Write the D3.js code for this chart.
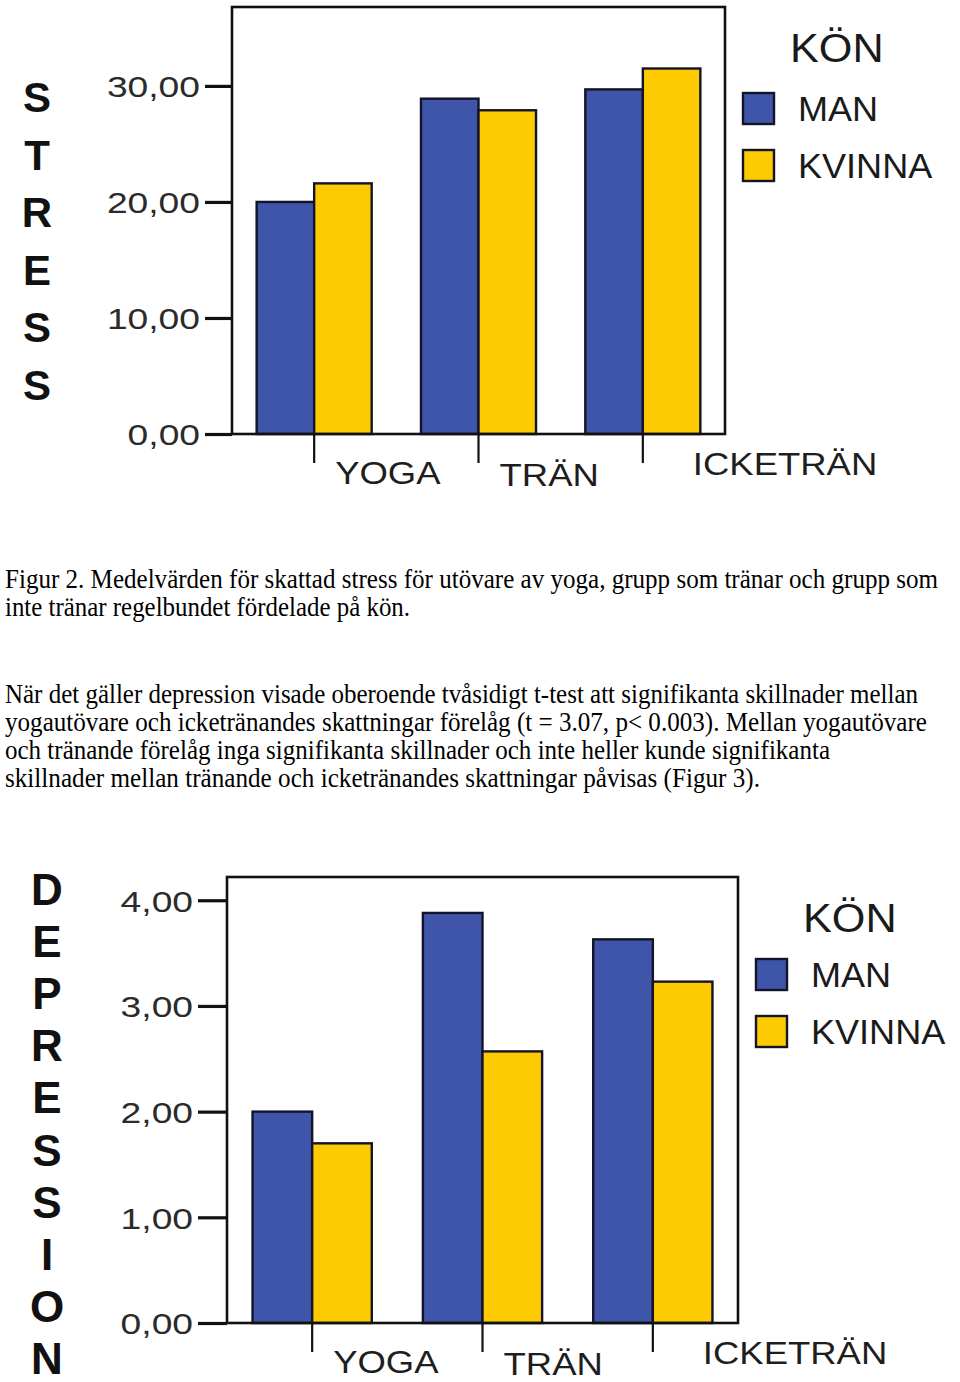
<!DOCTYPE html>
<html>
<head>
<meta charset="utf-8">
<script src="https://cdn.jsdelivr.net/npm/d3@7"></script>
<style>
  body { margin: 0; background: #fff; }
  svg { display: block; }
</style>
</head>
<body>
<div id="page"></div>
<script>
var width = 960,
    height = 1382;

// categories and series
const groups = ["YOGA", "TRÄN", "ICKETRÄN"];
const genders = ["MAN", "KVINNA"];

// figur 2 - stress
const stressMan = [20.0, 28.9, 29.7];
const stressKvinna = [21.6, 27.9, 31.5];
const stressTicks = [0, 10, 20, 30];

// figur 3 - depression
const depManValues = [2.00, 3.88, 3.63];
const depKvinnaValues = [1.70, 2.57, 3.23];
const depTicks = [0, 1, 2, 3, 4];

const legendTitle = "KÖN";

const captionLines = [
    "Figur 2. Medelvärden för skattad stress för utövare av yoga, grupp som tränar och grupp som",
    "inte tränar regelbundet fördelade på kön."
];
const paragraphLines = [
    "När det gäller depression visade oberoende tvåsidigt t-test att signifikanta skillnader mellan",
    "yogautövare och icketränandes skattningar förelåg (t = 3.07, p< 0.003). Mellan yogautövare",
    "och tränande förelåg inga signifikanta skillnader och inte heller kunde signifikanta",
    "skillnader mellan tränande och icketränandes skattningar påvisas (Figur 3)."
];

const colors = { MAN: "#3f55a9", KVINNA: "#fecb02" };
const sans = "'Liberation Sans', Arial, sans-serif";
const serif = "'Liberation Serif', 'Times New Roman', serif";

var svg = d3.select("#page").append("svg")
    .attr("width", width)
    .attr("height", height);

// widen svg text horizontally, the original picture is stretched
function stretch(sel, k) {
    sel.each(function () {
        var w = this.getComputedTextLength();
        d3.select(this).attr("textLength", w * k).attr("lengthAdjust", "spacingAndGlyphs");
    });
}

function drawChart(opt) {
    var rows = groups.map(function (g, i) {
        return { group: g, MAN: opt.man[i], KVINNA: opt.kvinna[i] };
    });

    var g = svg.append("g");

    var x0 = d3.scalePoint()
        .domain(groups)
        .range([opt.left, opt.right])
        .padding(0.5);

    var half = x0.step() * 0.35;
    var x1 = d3.scaleBand()
        .domain(genders)
        .range([-half, half]);

    var y = d3.scaleLinear()
        .domain([0, opt.yMax])
        .range([opt.bottom, opt.top]);

    // bars
    g.selectAll(".grp")
        .data(rows)
        .join("g")
        .attr("class", "grp")
        .attr("transform", d => "translate(" + x0(d.group) + ",0)")
        .selectAll("rect")
        .data(d => genders.map(k => ({ key: k, value: d[k] })))
        .join("rect")
        .attr("x", d => x1(d.key))
        .attr("width", x1.bandwidth())
        .attr("y", d => y(d.value))
        .attr("height", d => y(0) - y(d.value))
        .attr("fill", d => colors[d.key])
        .attr("stroke", "#141428")
        .attr("stroke-width", 2.4);

    // frame
    g.append("rect")
        .attr("x", opt.left)
        .attr("y", opt.top)
        .attr("width", opt.right - opt.left)
        .attr("height", opt.bottom - opt.top)
        .attr("fill", "none")
        .attr("stroke", "#111")
        .attr("stroke-width", 2.6);

    // y axis
    var yAxis = g.append("g")
        .attr("transform", "translate(" + opt.left + ",0)")
        .call(d3.axisLeft(y)
            .tickValues(opt.ticks)
            .tickSize(opt.tickLen)
            .tickPadding(5)
            .tickFormat(d => d3.format(".2f")(d).replace(".", ",")));
    yAxis.select(".domain").remove();
    yAxis.selectAll(".tick line").attr("stroke", "#111").attr("stroke-width", 3.2);
    yAxis.selectAll(".tick text")
        .attr("fill", "#2b2b2b")
        .style("font-family", sans)
        .style("font-size", "30px")
        .attr("dy", "0.36em")
        .call(stretch, 1.24);

    // category ticks below the axis
    g.selectAll(".cat-tick")
        .data(groups)
        .join("line")
        .attr("class", "cat-tick")
        .attr("x1", d => x0(d))
        .attr("x2", d => x0(d))
        .attr("y1", opt.bottom)
        .attr("y2", opt.bottom + 29)
        .attr("stroke", "#111")
        .attr("stroke-width", 2.2);

    var labelDx = [21, 21, 50],
        labelDy = [50, 52, 41];
    g.selectAll(".cat-label")
        .data(groups)
        .join("text")
        .attr("class", "cat-label")
        .attr("x", (d, i) => x0(d) + labelDx[i])
        .attr("y", (d, i) => opt.bottom + labelDy[i])
        .attr("fill", "#1e1e1e")
        .style("font-family", sans)
        .style("font-size", "32px")
        .text(d => d)
        .call(stretch, 1.14);

    // vertical y title, one letter per row
    g.selectAll(".ytitle")
        .data(opt.title.split(""))
        .join("text")
        .attr("class", "ytitle")
        .attr("x", opt.titleX)
        .attr("y", (d, i) => opt.titleY + i * opt.titleStep)
        .attr("text-anchor", "middle")
        .attr("fill", "#111")
        .style("font-family", sans)
        .style("font-weight", "bold")
        .style("font-size", opt.titleSize + "px")
        .text(d => d);

    // legend
    var lg = g.append("g")
        .attr("transform", "translate(" + (opt.right + 18) + "," + opt.top + ")");

    lg.append("text")
        .attr("x", 47)
        .attr("y", 55)
        .attr("fill", "#1a1a1a")
        .style("font-family", sans)
        .style("font-size", "40px")
        .text(legendTitle)
        .call(stretch, 1.08);

    var items = lg.selectAll(".item")
        .data(genders)
        .join("g")
        .attr("class", "item")
        .attr("transform", (d, i) => "translate(0," + (opt.legendY + i * 57) + ")");

    items.append("rect")
        .attr("width", 31)
        .attr("height", 31)
        .attr("fill", d => colors[d])
        .attr("stroke", "#141428")
        .attr("stroke-width", 2.4);

    items.append("text")
        .attr("x", 55)
        .attr("y", 28)
        .attr("fill", "#1a1a1a")
        .style("font-family", sans)
        .style("font-size", "35px")
        .text(d => d)
        .call(stretch, 1.03);
}

drawChart({
    man: stressMan, kvinna: stressKvinna, ticks: stressTicks,
    left: 232, right: 725, top: 7, bottom: 434, yMax: 36.8, tickLen: 27,
    title: "STRESS", titleX: 37, titleY: 112, titleStep: 57.6, titleSize: 42,
    legendY: 86
});

drawChart({
    man: depManValues, kvinna: depKvinnaValues, ticks: depTicks,
    left: 227, right: 738, top: 877, bottom: 1323, yMax: 4.22, tickLen: 29,
    title: "DEPRESSION", titleX: 47, titleY: 905, titleStep: 52.1, titleSize: 44,
    legendY: 82
});

// body text between the two figures, tall and narrow like the scan
function textBlock(lines, y0, step, widths) {
    svg.append("g").selectAll("g")
        .data(lines)
        .join("g")
        .attr("transform", (d, i) => "translate(5," + (y0 + i * step) + ") scale(1,1.1)")
        .append("text")
        .attr("fill", "#000")
        .style("font-family", serif)
        .style("font-size", "24px")
        .attr("textLength", (d, i) => widths[i])
        .attr("lengthAdjust", "spacingAndGlyphs")
        .text(d => d);
}

textBlock(captionLines, 588, 27.5, [933, 405]);
textBlock(paragraphLines, 703, 28, [913, 922, 825, 755]);
</script>
</body>
</html>
